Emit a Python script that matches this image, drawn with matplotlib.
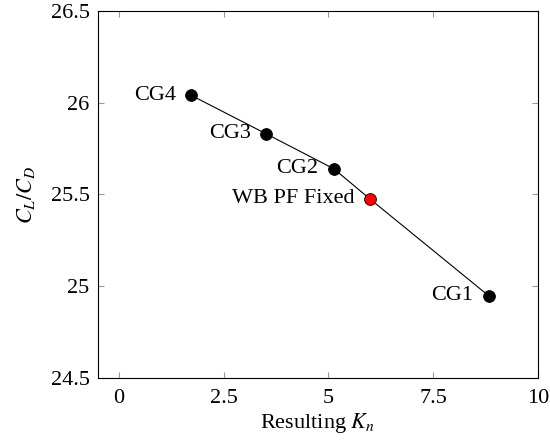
import matplotlib
matplotlib.use('Agg')
import matplotlib.pyplot as plt

# data
labels = ['CG4', 'CG3', 'CG2', 'WB PF Fixed', 'CG1']
kn = [1.73, 3.52, 5.13, 5.99, 8.83]
cl_cd = [26.04, 25.83, 25.64, 25.476, 24.947]
colors = ['black', 'black', 'black', 'red', 'black']

x_ticks = [0, 2.5, 5, 7.5, 10]
x_tick_labels = ['0', '2.5', '5', '7.5', '10']
y_ticks = [24.5, 25, 25.5, 26, 26.5]
y_tick_labels = ['24.5', '25', '25.5', '26', '26.5']

plt.rcParams['font.family'] = ['Liberation Serif', 'DejaVu Serif']
plt.rcParams['mathtext.fontset'] = 'stix'
plt.rcParams['font.size'] = 16

fig = plt.figure(figsize=(5.5, 4.4), dpi=100)
ax = fig.add_axes([0.178, 0.141, 0.800, 0.834])

ax.plot(kn, cl_cd, color='black', lw=0.8, zorder=2)
for x, y, c, lab in zip(kn, cl_cd, colors, labels):
    ax.plot(x, y, 'o', ms=8.5, mfc=c, mec='black', mew=0.6, zorder=3)
    ax.annotate(lab, (x, y), xytext=(-11, 0), textcoords='offset points',
                ha='right', va='center', fontsize=16)

ax.set_xlim(-0.5, 10)
ax.set_ylim(24.5, 26.5)
ax.set_xticks(x_ticks)
ax.set_xticklabels(x_tick_labels)
ax.set_yticks(y_ticks)
ax.set_yticklabels(y_tick_labels)
ax.tick_params(direction='in', top=True, right=True, length=4.5,
               width=0.8, color='#999999', pad=6)
ax.tick_params(axis='x', pad=8)
for s in ax.spines.values():
    s.set_linewidth(0.8)

ax.set_xlabel('Resulting $K_n$', labelpad=2)
ax.set_ylabel('$C_L/C_D$', labelpad=10)

fig.savefig('out.png', dpi=100)
